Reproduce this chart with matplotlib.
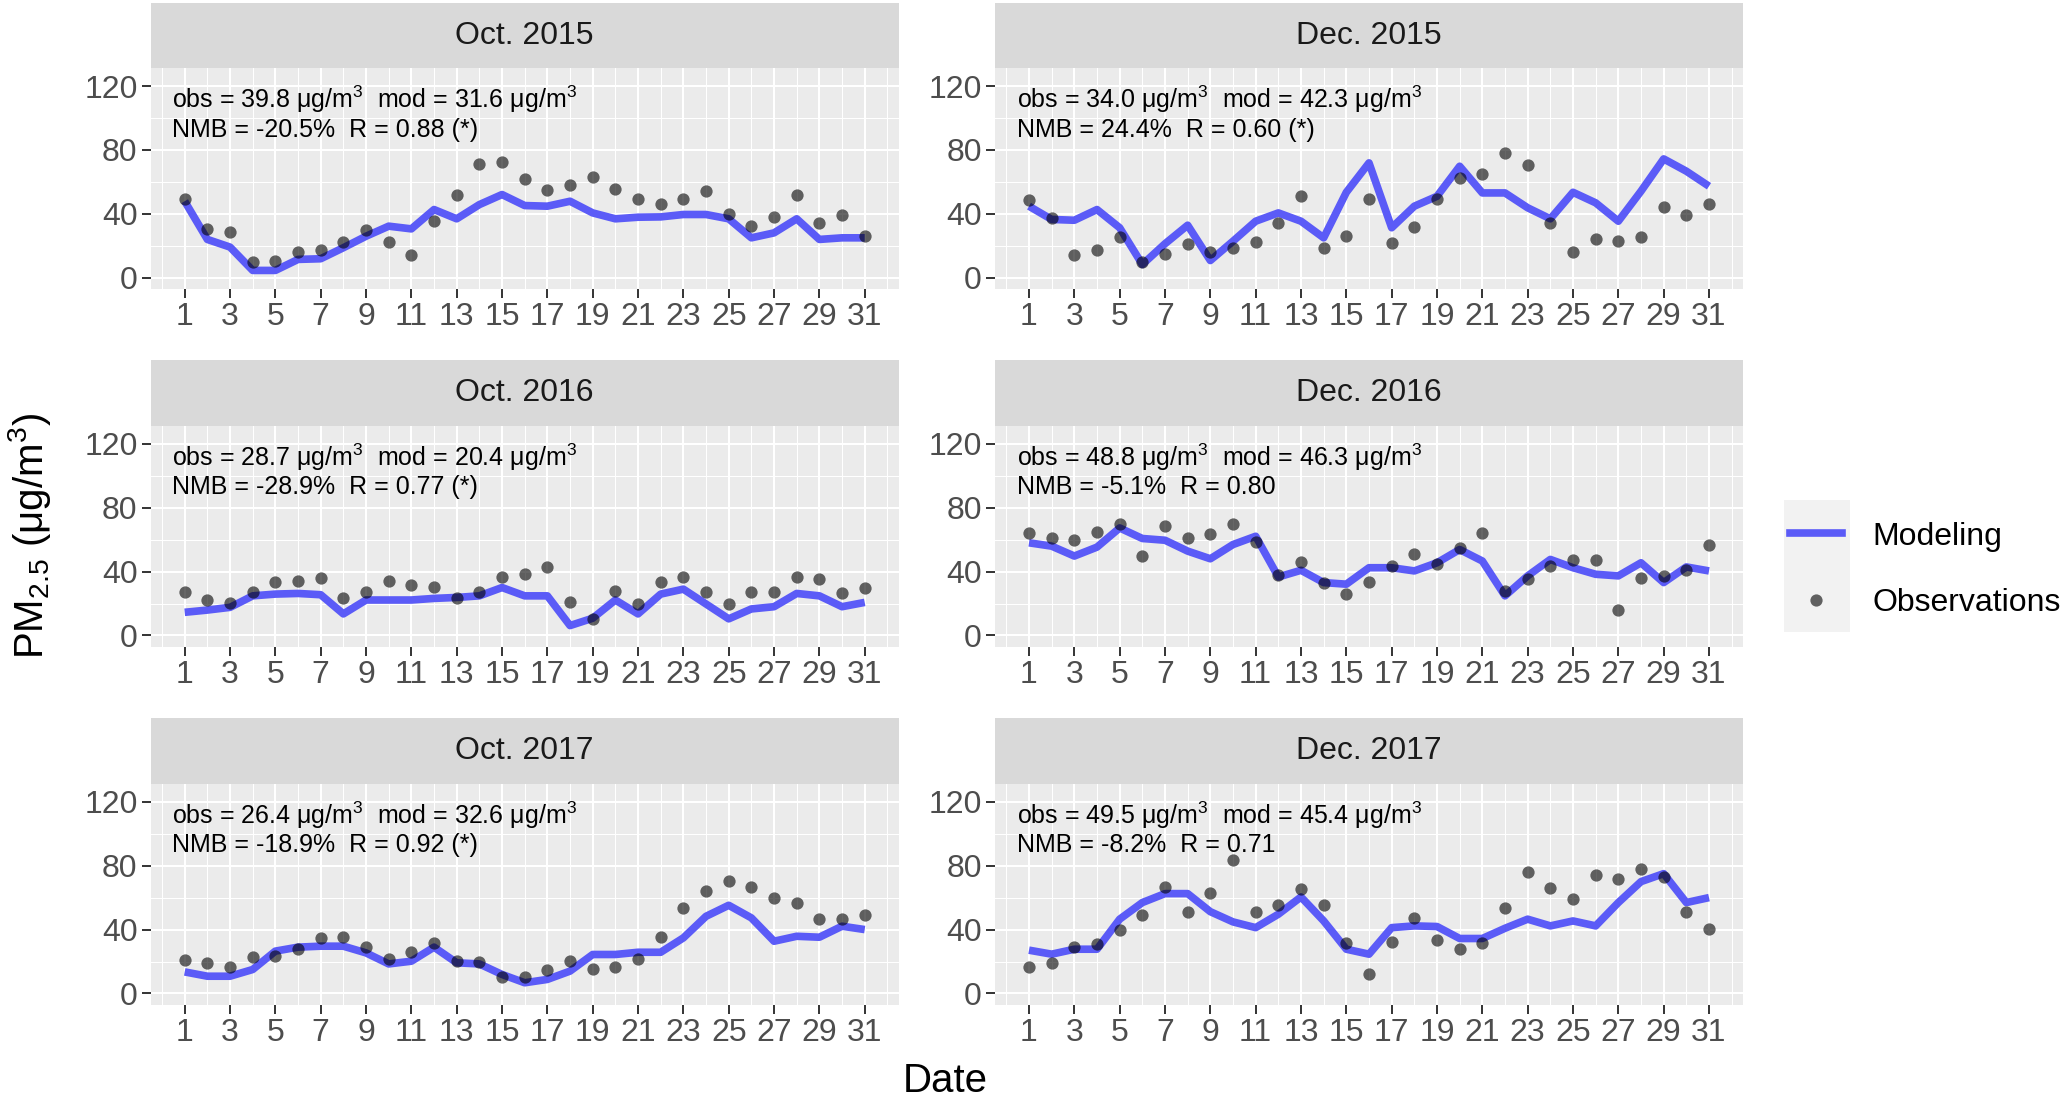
import matplotlib
matplotlib.use("Agg")
import matplotlib.pyplot as plt
from matplotlib.patches import Rectangle
from matplotlib.lines import Line2D

plt.rcParams['font.family'] = ['Liberation Sans', 'DejaVu Sans']
plt.rcParams['mathtext.default'] = 'regular'

days = list(range(1, 32))

# observations / model (ug/m3)
obs_oct15 = [49.4, 30.6, 28.5, 9.8, 10.4, 16.3, 17.5, 22.7, 29.8, 22.3, 14.2, 35.6, 52.1, 71.5, 72.5, 61.9,
             54.8, 58.1, 62.9, 55.4, 49.2, 46.3, 49.2, 54.4, 39.8, 32.7, 38.3, 52.1, 34.4, 39.2, 26.0]
mod_oct15 = [47.9, 24.0, 19.2, 4.6, 4.6, 11.5, 11.9, 18.8, 26.0, 32.3, 30.6, 42.7, 36.9, 45.8, 52.1, 45.2,
             44.8, 47.9, 40.6, 36.9, 37.9, 38.1, 39.6, 39.6, 36.9, 25.0, 28.1, 36.9, 24.0, 25.0, 25.0]

obs_dec15 = [48.5, 37.1, 14.2, 17.1, 25.6, 9.8, 14.8, 21.3, 16.3, 18.5, 22.3, 34.4, 51.0, 18.5, 26.0, 49.0,
             21.9, 31.9, 49.0, 62.5, 65.2, 78.1, 70.6, 34.0, 16.3, 24.0, 22.9, 25.6, 44.2, 39.0, 46.3]
mod_dec15 = [44.8, 36.5, 36.0, 42.7, 31.3, 8.3, 21.3, 32.9, 10.8, 22.9, 35.4, 40.6, 35.4, 25.0, 53.5, 71.9,
             31.3, 44.8, 51.0, 69.8, 53.1, 53.1, 43.8, 36.9, 53.5, 46.9, 35.4, 54.2, 74.4, 66.7, 57.3]

obs_oct16 = [27.3, 22.2, 20.1, 27.3, 33.5, 34.0, 36.0, 23.4, 27.3, 34.2, 31.7, 30.4, 23.4, 27.3, 36.6, 38.7,
             42.9, 21.1, 10.4, 27.7, 19.5, 33.5, 36.4, 27.3, 19.7, 27.3, 27.3, 36.4, 35.4, 26.3, 29.4]
mod_oct16 = [14.5, 15.9, 17.6, 24.8, 25.9, 26.3, 25.5, 13.5, 22.2, 22.2, 22.2, 23.2, 23.8, 24.8, 30.0, 24.8,
             24.8, 6.2, 10.8, 22.2, 13.5, 25.9, 29.0, 19.7, 10.4, 16.6, 18.0, 26.3, 24.8, 18.0, 20.7]

obs_dec16 = [64.2, 60.7, 59.6, 64.8, 70.0, 49.7, 68.3, 61.1, 63.8, 70.0, 58.6, 37.9, 46.2, 33.1, 25.9, 33.5,
             43.5, 50.7, 44.5, 54.9, 64.2, 28.0, 35.2, 43.5, 47.0, 47.0, 16.0, 36.2, 37.1, 41.2, 56.7]
mod_dec16 = [58.0, 55.9, 49.7, 55.3, 67.3, 60.7, 59.6, 52.8, 48.0, 56.9, 62.1, 36.6, 40.8, 33.1, 32.1, 42.4,
             42.4, 40.4, 45.5, 53.8, 46.6, 24.8, 37.3, 47.6, 42.4, 38.3, 37.3, 45.5, 33.1, 42.9, 40.4]

obs_oct17 = [20.8, 19.2, 16.7, 22.7, 23.3, 27.9, 34.8, 35.2, 29.0, 21.7, 26.0, 31.7, 20.2, 19.6, 10.2, 10.2,
             15.0, 20.2, 15.6, 16.7, 21.3, 35.4, 53.5, 64.0, 70.2, 66.7, 59.8, 56.7, 46.3, 46.9, 49.4]
mod_oct17 = [13.5, 10.8, 10.8, 15.0, 26.5, 29.0, 29.6, 29.6, 25.4, 18.5, 20.2, 29.0, 19.2, 18.5, 11.9, 6.7,
             8.8, 14.0, 24.4, 24.4, 25.8, 25.8, 34.8, 48.3, 55.2, 47.3, 32.7, 35.8, 35.2, 42.1, 40.0]

obs_dec17 = [16.3, 18.8, 29.2, 30.8, 39.8, 49.0, 66.9, 51.0, 63.1, 83.3, 51.0, 55.2, 65.6, 55.4, 31.9, 12.5,
             32.3, 47.1, 33.5, 27.7, 31.9, 53.3, 76.2, 66.2, 59.0, 74.0, 71.9, 77.7, 73.1, 51.2, 40.6]
mod_dec17 = [27.1, 24.6, 27.7, 27.7, 46.5, 56.9, 62.5, 62.5, 51.2, 44.8, 41.2, 49.6, 60.4, 45.4, 27.7, 24.6,
             41.2, 42.3, 41.9, 34.4, 34.4, 40.8, 46.5, 42.3, 45.4, 42.3, 56.9, 70.0, 75.0, 56.9, 60.0]

titles = ["Oct. 2015", "Dec. 2015", "Oct. 2016", "Dec. 2016", "Oct. 2017", "Dec. 2017"]
obs_all = [obs_oct15, obs_dec15, obs_oct16, obs_dec16, obs_oct17, obs_dec17]
mod_all = [mod_oct15, mod_dec15, mod_oct16, mod_dec16, mod_oct17, mod_dec17]
stats_line1 = ["obs = 39.8 μg/m$^3$  mod = 31.6 μg/m$^3$", "obs = 34.0 μg/m$^3$  mod = 42.3 μg/m$^3$",
               "obs = 28.7 μg/m$^3$  mod = 20.4 μg/m$^3$", "obs = 48.8 μg/m$^3$  mod = 46.3 μg/m$^3$",
               "obs = 26.4 μg/m$^3$  mod = 32.6 μg/m$^3$", "obs = 49.5 μg/m$^3$  mod = 45.4 μg/m$^3$"]
stats_line2 = ["NMB = -20.5%  R = 0.88 (*)", "NMB = 24.4%  R = 0.60 (*)",
               "NMB = -28.9%  R = 0.77 (*)", "NMB = -5.1%  R = 0.80",
               "NMB = -18.9%  R = 0.92 (*)", "NMB = -8.2%  R = 0.71"]

W, H = 2067, 1101
fig = plt.figure(figsize=(W / 100, H / 100), dpi=100)

col_left = [150.7, 995.0]
row_top = [68.3, 426.0, 784.0]
pw, ph, sh = 748.0, 220.5, 65.6

line_col = '#5B5BF7'
for i in range(6):
    l = col_left[i % 2]
    t = row_top[i // 2]
    ax = fig.add_axes([l / W, 1 - (t + ph) / H, pw / W, ph / H])
    ax.set_facecolor('#EBEBEB')
    ax.plot(days, mod_all[i], color=line_col, lw=5.5, solid_capstyle='butt', zorder=3)
    ax.scatter(days, obs_all[i], s=78, color='black', alpha=0.6, lw=0, zorder=4)
    ax.set_xlim(-0.5, 32.5)
    ax.set_ylim(-6.9, 131.1)
    ax.set_xticks(range(1, 32, 2))
    ax.set_xticks(range(0, 33, 2), minor=True)
    ax.set_yticks([0, 40, 80, 120])
    ax.set_yticks([20, 60, 100], minor=True)
    ax.grid(which='major', color='white', lw=1.5)
    ax.grid(which='minor', color='white', lw=0.75)
    ax.set_axisbelow(True)
    for s in ax.spines.values():
        s.set_visible(False)
    ax.tick_params(which='major', length=6.5, width=1.4, color='#333333',
                   labelcolor='#4D4D4D', labelsize=23, pad=3)
    ax.tick_params(which='minor', length=0)
    ax.text(0.46, 111.7, stats_line1[i], fontsize=18, ha='left', va='center', color='black')
    ax.text(0.46, 92.7, stats_line2[i], fontsize=18, ha='left', va='center', color='black')

    sax = fig.add_axes([l / W, 1 - t / H, pw / W, sh / H])
    sax.set_facecolor('#D9D9D9')
    sax.set_xticks([])
    sax.set_yticks([])
    for s in sax.spines.values():
        s.set_visible(False)
    sax.text(0.5, 0.5, titles[i], transform=sax.transAxes, ha='center', va='center',
             fontsize=23, color='#1A1A1A')

fig.text(945 / W, 1 - 1081 / H, 'Date', ha='center', va='center', fontsize=29)
fig.text(30 / W, 1 - 536 / H, 'PM$_{2.5}$ (μg/m$^3$)', ha='center', va='center',
         fontsize=29, rotation=90)

# legend
fig.patches.append(Rectangle((1784 / W, 1 - 632 / H), 66 / W, 132 / H, transform=fig.transFigure,
                             facecolor='#F2F2F2', edgecolor='none'))
handles = [Line2D([], [], color=line_col, lw=5.5),
           Line2D([], [], marker='o', ls='none', color='black', alpha=0.6, markersize=8.8, mec='none')]
fig.legend(handles, ['Modeling', 'Observations'], loc='center left',
           bbox_to_anchor=(1790 / W, 1 - 570 / H), frameon=False, fontsize=23,
           handlelength=1.63, handletextpad=0.94, labelspacing=1.15, borderpad=0, borderaxespad=0)

fig.savefig('out.png', dpi=100)
